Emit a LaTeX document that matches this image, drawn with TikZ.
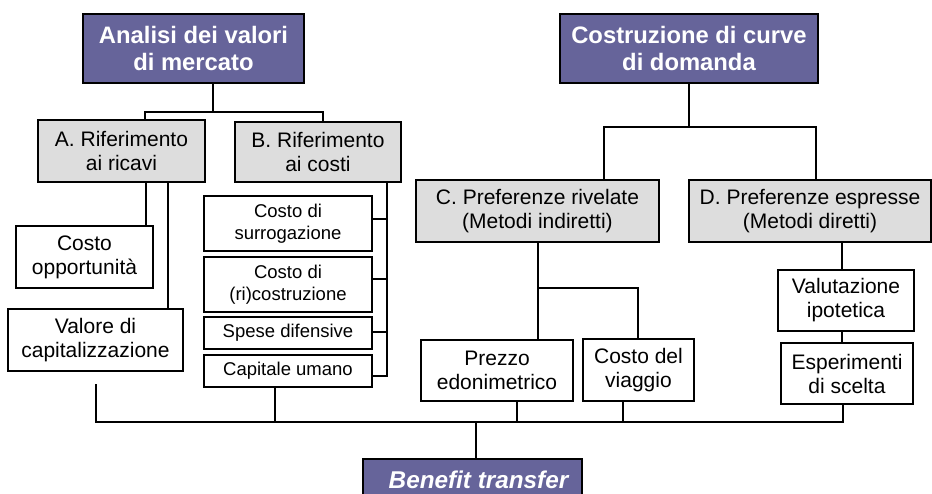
\documentclass[tikz,border=0pt]{standalone}
\usepackage{fontspec}
\setmainfont{Liberation Sans}
\definecolor{hdr}{HTML}{66649A}
\definecolor{gry}{HTML}{DDDDDD}
\begin{document}
\begin{tikzpicture}[x=1pt,y=-1pt,
 box/.style={draw=black,line width=2pt,align=center,inner sep=0pt},
 hdrbox/.style={box,fill=hdr,text=white,font=\bfseries\fontsize{23.8}{27.5}\selectfont},
 greybox/.style={box,fill=gry,font=\fontsize{21}{24}\selectfont},
 whitebox/.style={box,fill=white,font=\fontsize{21}{24}\selectfont},
 smallbox/.style={box,fill=white,font=\fontsize{18.5}{22.5}\selectfont},
 conn/.style={line width=2.5pt}]
\useasboundingbox (0,0) rectangle (932,493);
\clip (0,0) rectangle (932,493);
% headers
\node[hdrbox,minimum width=221pt,minimum height=69pt] (H1) at (193.5,48.5) {Analisi dei valori\\di mercato};
\node[hdrbox,minimum width=258pt,minimum height=69pt] (H2) at (689,48.5) {Costruzione di curve\\di domanda};
% grey boxes
\node[greybox,minimum width=167pt,minimum height=62pt] (A) at (121.5,151) {A. Riferimento\\ai ricavi};
\node[greybox,minimum width=166pt,minimum height=60pt] (B) at (318,152) {B. Riferimento\\ai costi};
\node[greybox,minimum width=243pt,minimum height=62pt] (C) at (537.5,211) {C. Preferenze rivelate\\(Metodi indiretti)};
\node[greybox,minimum width=242pt,minimum height=62pt] (D) at (810,211) {D. Preferenze espresse\\(Metodi diretti)};
% white boxes
\node[whitebox,minimum width=137pt,minimum height=62pt] (CO) at (84.5,257) {Costo\\opportunità};
\node[whitebox,minimum width=175pt,minimum height=62pt] (VC) at (95.5,340) {Valore di\\capitalizzazione};
\node[smallbox,minimum width=168pt,minimum height=55pt] (CS) at (288,223.5) {Costo di\\surrogazione};
\node[smallbox,minimum width=168pt,minimum height=55pt] (CR) at (288,284.5) {Costo di\\(ri)costruzione};
\node[smallbox,minimum width=168pt,minimum height=32pt] (SD) at (288,333) {Spese difensive};
\node[smallbox,minimum width=168pt,minimum height=32pt] (CU) at (288,371) {Capitale umano};
\node[whitebox,minimum width=152pt,minimum height=61pt] (PE) at (497,370.5) {Prezzo\\edonimetrico};
\node[whitebox,minimum width=111pt,minimum height=62pt] (CV) at (638.5,370) {Costo del\\viaggio};
\node[whitebox,minimum width=136pt,minimum height=61pt] (VI) at (846,300.5) {Valutazione\\ipotetica};
\node[whitebox,minimum width=132pt,minimum height=61pt] (ES) at (847,373.5) {Esperimenti\\di scelta};
\node[hdrbox,font=\bfseries\itshape\fontsize{24.3}{28}\selectfont,minimum width=219pt,minimum height=42pt] (BT) at (472.5,480) {\hspace*{12pt}Benefit transfer};
% H1 tree
\draw[conn] (213,0 |- H1.south) -- (213,112);
\draw[conn] (145,0 |- A.north) -- (145,112) -- (323,112) -- (323,0 |- B.north);
\draw[conn] (146,0 |- A.south) -- (146,0 |- CO.north);
\draw[conn] (168,0 |- A.south) -- (168,0 |- VC.north);
\draw[conn] (387,0 |- B.south) -- (387,376) -- (CU.east |- 0,376);
\draw[conn] (CS.east |- 0,219) -- (387,219);
\draw[conn] (CR.east |- 0,279) -- (387,279);
\draw[conn] (SD.east |- 0,332) -- (387,332);
% bottom collector
\coordinate (vcEnd) at (96,384);
\draw[conn] (vcEnd) -- (96,422) -- (843,422) -- (843,0 |- ES.south);
\draw[conn] (275,0 |- CU.south) -- (275,422);
\draw[conn] (517,0 |- PE.south) -- (517,422);
\draw[conn] (623,0 |- CV.south) -- (623,422);
\draw[conn] (476,422) -- (476,0 |- BT.north);
% H2 tree
\draw[conn] (689,0 |- H2.south) -- (689,127);
\draw[conn] (604,0 |- C.north) -- (604,127) -- (816,127) -- (816,0 |- D.north);
\draw[conn] (538,0 |- C.south) -- (538,0 |- PE.north);
\draw[conn] (538,288) -- (638,288) -- (638,0 |- CV.north);
\draw[conn] (842,0 |- D.south) -- (842,0 |- VI.north);
\draw[conn] (842,0 |- VI.south) -- (842,0 |- ES.north);
\end{tikzpicture}
\end{document}
